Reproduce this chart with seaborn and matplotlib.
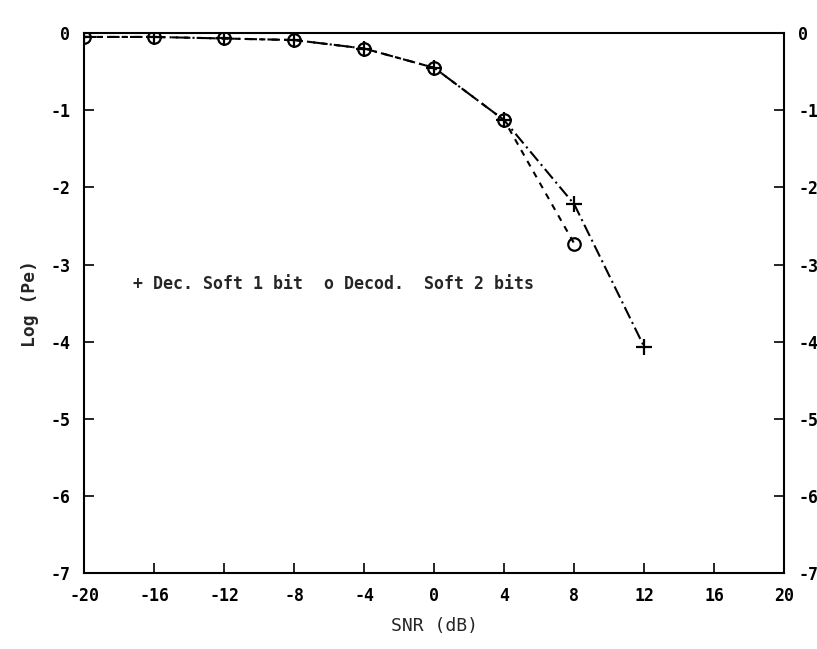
import matplotlib
matplotlib.use("Agg")
import matplotlib.pyplot as plt
import seaborn as sns
import pandas as pd

# Error probability curves (log10 Pe) versus SNR for two soft-decision decoders
snr_2bit = [-20, -16, -12, -8, -4, 0, 4, 8]
logpe_2bit = [-0.05, -0.05, -0.07, -0.09, -0.20, -0.45, -1.13, -2.73]

snr_1bit = [-20, -16, -12, -8, -4, 0, 4, 8, 12]
logpe_1bit = [-0.05, -0.05, -0.07, -0.09, -0.20, -0.45, -1.13, -2.22, -4.07]

x_ticks = [-20, -16, -12, -8, -4, 0, 4, 8, 12, 16, 20]
x_tick_labels = ["-20", "-16", "-12", "-8", "-4", "0", "4", "8", "12", "16", "20"]
y_ticks = [0, -1, -2, -3, -4, -5, -6, -7]
y_tick_labels = ["0", "-1", "-2", "-3", "-4", "-5", "-6", "-7"]

legend_1bit = "+ Dec. Soft 1 bit"
legend_2bit = "o Decod.  Soft 2 bits"

sns.set_style("ticks")
plt.rcParams["font.family"] = ["DejaVu Sans Mono", "DejaVu Sans"]
plt.rcParams["font.weight"] = "bold"
plt.rcParams["axes.unicode_minus"] = False

df1 = pd.DataFrame({"snr": snr_1bit, "logpe": logpe_1bit})
df2 = pd.DataFrame({"snr": snr_2bit, "logpe": logpe_2bit})

fig = plt.figure(figsize=(8.17, 6.49), dpi=100)
ax = fig.add_axes([0.103, 0.117, 0.857, 0.832])

sns.lineplot(data=df1, x="snr", y="logpe", ax=ax, color="black",
             linewidth=1.5, linestyle=(0, (6, 2, 1, 2)),
             marker="+", markersize=11, markeredgewidth=1.6,
             markeredgecolor="black")
sns.lineplot(data=df2, x="snr", y="logpe", ax=ax, color="black",
             linewidth=1.5, linestyle=(0, (3, 3)),
             marker="o", markersize=9, markerfacecolor="none",
             markeredgecolor="black", markeredgewidth=1.6)

ax.set_xlim(-20, 20)
ax.set_ylim(-7, 0)
ax.set_xticks(x_ticks)
ax.set_xticklabels(x_tick_labels)
ax.set_yticks(y_ticks)
ax.set_yticklabels(y_tick_labels)

for s in ax.spines.values():
    s.set_visible(True)
    s.set_linewidth(1.5)
    s.set_color("black")

ax.tick_params(axis="both", direction="in", length=7, width=1.2,
               labelsize=12, colors="black")
ax.tick_params(axis="y", left=True, right=True, labelleft=True,
               labelright=True, pad=10)
ax.tick_params(axis="x", top=False, pad=10)

ax.set_xlabel("SNR (dB)", fontsize=13, labelpad=9, fontweight="normal")
ax.set_ylabel("Log (Pe)", fontsize=13, labelpad=8, fontweight="bold")

ax.text(-17.2, -3.25, legend_1bit, fontsize=12, va="center", ha="left")
ax.text(-6.3, -3.25, legend_2bit, fontsize=12, va="center", ha="left")

fig.savefig("out.png", dpi=100, facecolor="white")
